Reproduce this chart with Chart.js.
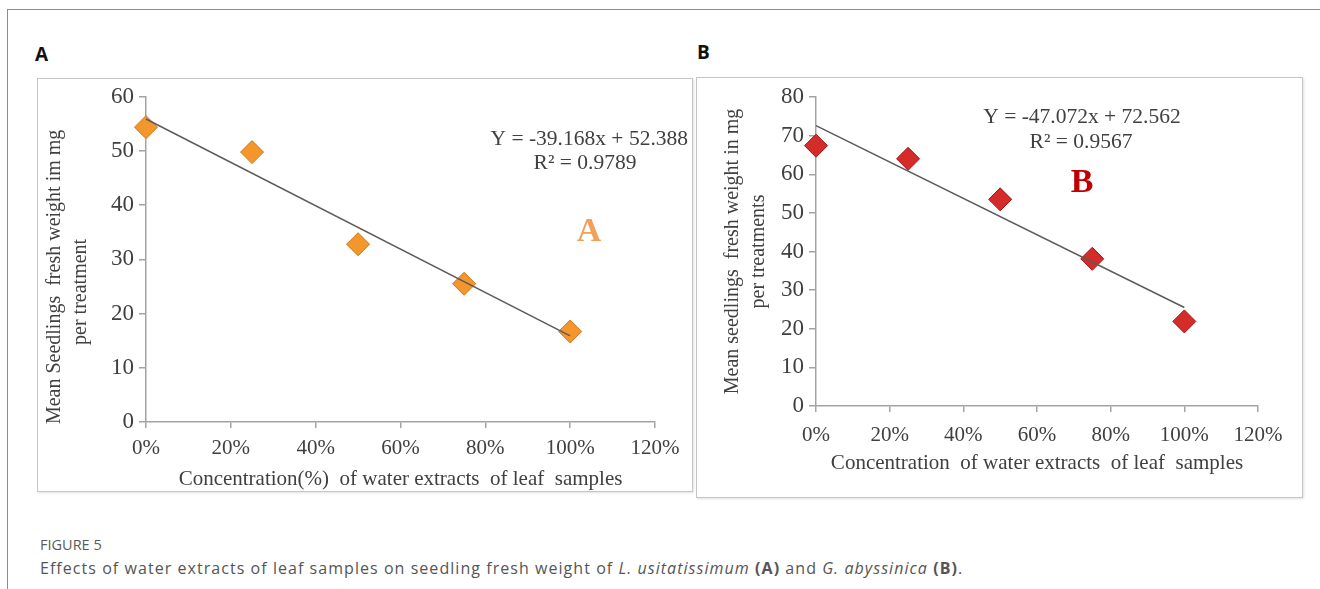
<!DOCTYPE html>
<html>
<head>
<meta charset="utf-8">
<script src="https://cdn.jsdelivr.net/npm/chart.js@4.4.0/dist/chart.umd.min.js"></script>
<style>
    body { margin: 0; background: #fff; width: 1320px; height: 589px; overflow: hidden; position: relative; font-family: "Open Sans", sans-serif; }
    .frame { position: absolute; left: 7px; top: 9px; width: 1340px; height: 620px; border-top: 1.5px solid #8c8c8c; border-left: 1.5px solid #8c8c8c; }
    .tag { position: absolute; font-weight: 700; font-size: 19px; color: #111; line-height: 22px; }
    .box { position: absolute; box-sizing: border-box; border: 1px solid #c6c6c6; box-shadow: 1px 1px 2px rgba(0,0,0,0.12); background: #fff; }
    .plot { position: absolute; }
    .fig { position: absolute; left: 40px; top: 536px; font-size: 14.5px; color: #5a5a5a; line-height: 18px; }
    .caption { position: absolute; left: 40px; top: 557px; font-size: 16px; letter-spacing: 1.05px; color: #555; line-height: 22px; white-space: nowrap; }
</style>
</head>
<body>
<div class="frame"></div>
<div class="tag" style="left:35px; top:43px;">A</div>
<div class="tag" style="left:697px; top:41px;">B</div>

<div class="box" style="left:37px; top:78px; width:656px; height:414px;"></div>
<div class="box" style="left:696px; top:77px; width:607px; height:421px;"></div>
<div class="plot" style="left:37px; top:78px; width:655px; height:414px;"><canvas id="chartA"></canvas></div>
<div class="plot" style="left:696px; top:77px; width:607px; height:421px;"><canvas id="chartB"></canvas></div>

<div class="fig">FIGURE 5</div>
<div class="caption">Effects of water extracts of leaf samples on seedling fresh weight of <i>L. usitatissimum</i> <b>(A)</b> and <i>G. abyssinica</i> <b>(B)</b>.</div>

<script>
// datos
var concentration = [0, 25, 50, 75, 100];
var weightA = [54.4, 49.8, 32.8, 25.5, 16.7];
var weightB = [67.4, 64.0, 53.5, 38.1, 21.9];
var trendX = [0, 100];
var trendA = [55.9, 15.9];
var trendB = [72.6, 25.5];
var xTicks = [0, 20, 40, 60, 80, 100, 120];
var yTicksA = [0, 10, 20, 30, 40, 50, 60];
var yTicksB = [0, 10, 20, 30, 40, 50, 60, 70, 80];

var serif = '"Liberation Serif", "Times New Roman", serif';
var textGray = '#404040';
var axisGray = '#a3a3a3';

function points(xs, ys) {
    return xs.map(function(x, i) { return { x: x, y: ys[i] }; });
}

// textos sobre el grafico (ecuacion y letra)
var notesPlugin = {
    id: 'notes',
    afterDatasetsDraw: function(chart, args, opts) {
        var ctx = chart.ctx;
        ctx.save();
        ctx.textBaseline = 'middle';
        opts.items.forEach(function(it) {
            ctx.font = it.font;
            ctx.fillStyle = it.color;
            ctx.textAlign = it.align;
            ctx.fillText(it.text, it.x, it.y);
        });
        ctx.restore();
    }
};

function makeChart(id, cfg) {
    return new Chart(document.getElementById(id), {
        type: 'scatter',
        data: {
            datasets: [{
                data: points(trendX, cfg.trend),
                showLine: true,
                borderColor: '#5b5b5b',
                borderWidth: 1.5,
                pointRadius: 0,
                clip: false
            }, {
                data: points(concentration, cfg.values),
                pointStyle: 'rectRot',
                pointRadius: 11.5,
                pointBackgroundColor: cfg.fill,
                pointBorderColor: cfg.edge,
                pointBorderWidth: 1,
                clip: false
            }]
        },
        plugins: [notesPlugin],
        options: {
            responsive: true,
            maintainAspectRatio: false,
            animation: false,
            layout: { padding: cfg.padding },
            plugins: {
                legend: { display: false },
                tooltip: { enabled: false },
                notes: { items: cfg.notes }
            },
            scales: {
                x: {
                    type: 'linear',
                    min: 0,
                    max: 120,
                    afterBuildTicks: function(s) { s.ticks = xTicks.map(function(v) { return { value: v }; }); },
                    afterFit: function(s) { s.height = cfg.xHeight; },
                    ticks: {
                        callback: function(v) { return v + '%'; },
                        color: textGray,
                        padding: cfg.xTickPad,
                        maxRotation: 0,
                        font: { family: serif, size: 21 }
                    },
                    grid: { drawOnChartArea: false, drawTicks: true, tickLength: 6, color: axisGray, lineWidth: 1.5 },
                    border: { color: axisGray, width: 1.5 },
                    title: {
                        display: true,
                        text: cfg.xTitle,
                        color: textGray,
                        padding: { top: 0, bottom: cfg.xTitlePad },
                        font: { family: serif, size: 21, lineHeight: 1.2 }
                    }
                },
                y: {
                    min: 0,
                    max: cfg.yMax,
                    afterBuildTicks: function(s) { s.ticks = cfg.yTicks.map(function(v) { return { value: v }; }); },
                    afterFit: function(s) { s.width = cfg.yWidth; },
                    ticks: {
                        color: textGray,
                        padding: 5,
                        font: { family: serif, size: 23 }
                    },
                    grid: { drawOnChartArea: false, drawTicks: true, tickLength: 7, color: axisGray, lineWidth: 1.5 },
                    border: { color: axisGray, width: 1.5 },
                    title: {
                        display: true,
                        text: cfg.yTitle,
                        color: textGray,
                        padding: { top: cfg.yTitlePad, bottom: 0 },
                        font: { family: serif, size: 20, lineHeight: 1.3 }
                    }
                }
            }
        }
    });
}

makeChart('chartA', {
    values: weightA,
    trend: trendA,
    yTicks: yTicksA,
    yMax: 60,
    fill: '#F3972C',
    edge: '#D0761A',
    padding: { left: 0, top: 16, right: 37, bottom: 0 },
    yWidth: 109,
    xHeight: 70,
    xTickPad: 8,
    xTitlePad: 0,
    yTitlePad: 5,
    xTitle: 'Concentration(%)  of water extracts  of leaf  samples',
    yTitle: ['Mean Seedlings  fresh weight im mg' + '       ', 'per treatment' + '             '],
    notes: [
        { text: 'Y = -39.168x + 52.388', x: 651, y: 61, align: 'right', font: '21.5px ' + serif, color: textGray },
        { text: 'R\u00b2 = 0.9789', x: 548, y: 85, align: 'center', font: '21.5px ' + serif, color: textGray },
        { text: 'A', x: 552, y: 154, align: 'center', font: 'bold 34px ' + serif, color: '#F2A15A' }
    ]
});

makeChart('chartB', {
    values: weightB,
    trend: trendB,
    yTicks: yTicksB,
    yMax: 80,
    fill: '#D42B2B',
    edge: '#A31414',
    padding: { left: 0, top: 20, right: 45, bottom: 0 },
    yWidth: 120,
    xHeight: 92,
    xTickPad: 11,
    xTitlePad: 22,
    yTitlePad: 24,
    xTitle: 'Concentration  of water extracts  of leaf  samples',
    yTitle: ['Mean seedlings  fresh weight in mg', 'per treatments'],
    notes: [
        { text: 'Y = -47.072x + 72.562', x: 386, y: 40, align: 'center', font: '21.5px ' + serif, color: textGray },
        { text: 'R\u00b2 = 0.9567', x: 385, y: 65, align: 'center', font: '21.5px ' + serif, color: textGray },
        { text: 'B', x: 386, y: 106, align: 'center', font: 'bold 34px ' + serif, color: '#C00000' }
    ]
});
</script>
</body>
</html>
